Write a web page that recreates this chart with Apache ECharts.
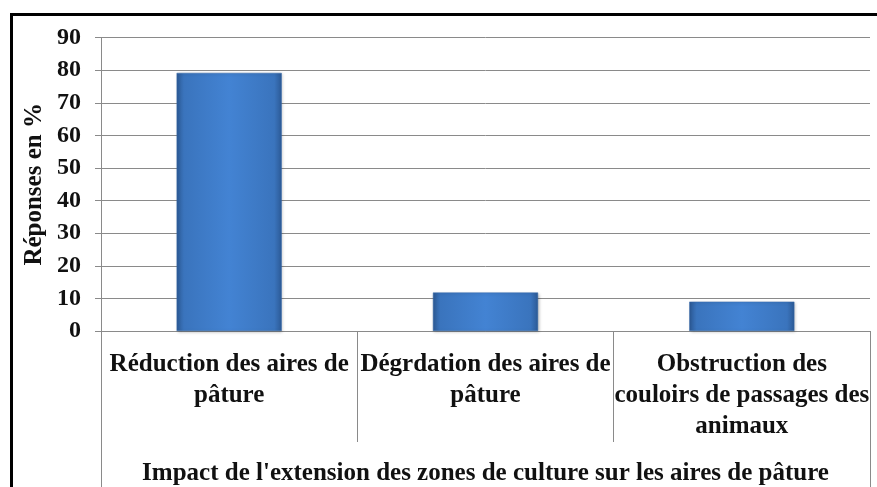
<!DOCTYPE html>
<html>
<head>
<meta charset="utf-8">
<script src="https://cdn.jsdelivr.net/npm/echarts@6/dist/echarts.min.js"></script>
<style>
  html, body { margin: 0; padding: 0; background: #ffffff; }
  #chart { width: 877px; height: 487px; }
</style>
</head>
<body>
<div id="chart"></div>
<script>
const categories = [
  "Réduction des aires de\npâture",
  "Dégrdation des aires de\npâture",
  "Obstruction des\ncouloirs de passages des\nanimaux"
];
const values = [79.2, 11.8, 9.0];
const groupLabel = ["Impact de l'extension des zones de culture sur les aires de pâture"];
const yAxisName = "Réponses en %";

const FONT = "'Liberation Serif', 'Times New Roman', serif";
const GRAY = "#8a8a8a";

const chart = echarts.init(document.getElementById('chart'), null, { renderer: 'canvas' });

const barGradient = new echarts.graphic.LinearGradient(0, 0, 1, 0, [
  { offset: 0, color: '#2c5a96' },
  { offset: 0.07, color: '#3a74bd' },
  { offset: 0.5, color: '#4383d3' },
  { offset: 0.93, color: '#3a74bd' },
  { offset: 1, color: '#2c5a96' }
]);

chart.setOption({
  backgroundColor: '#ffffff',
  animation: false,
  grid: { left: 101, right: 7, top: 37.7, bottom: 156, containLabel: false, outerBoundsMode: 'none' },
  graphic: [
    {
      type: 'rect',
      left: 9, top: 12,
      shape: { width: 900, height: 500 },
      style: { fill: 'none', stroke: '#000000', lineWidth: 3 },
      z: 100
    }
  ],
  xAxis: [
    {
      type: 'category',
      data: categories,
      position: 'bottom',
      axisLine: { show: true, lineStyle: { color: GRAY, width: 1 } },
      axisTick: { show: true, length: 111, lineStyle: { color: GRAY, width: 1 } },
      axisLabel: {
        interval: 0,
        margin: 18,
        fontFamily: FONT,
        fontWeight: 'bold',
        fontSize: 25,
        lineHeight: 31,
        color: '#111111',
        align: 'center'
      },
      splitLine: { show: false }
    },
    {
      type: 'category',
      data: groupLabel,
      position: 'bottom',
      axisLine: { show: false },
      axisTick: { show: true, length: 170, lineStyle: { color: GRAY, width: 1 } },
      axisLabel: {
        interval: 0,
        margin: 128,
        fontFamily: FONT,
        fontWeight: 'bold',
        fontSize: 25,
        lineHeight: 30,
        color: '#111111'
      },
      splitLine: { show: false }
    }
  ],
  yAxis: {
    type: 'value',
    min: 0,
    max: 90,
    interval: 10,
    name: yAxisName,
    nameLocation: 'middle',
    nameRotate: 90,
    nameGap: 54,
    nameMoveOverlap: false,
    nameTextStyle: {
      fontFamily: FONT,
      fontWeight: 'bold',
      fontSize: 25,
      color: '#111111'
    },
    axisLine: { show: true, lineStyle: { color: GRAY, width: 1 } },
    axisTick: { show: true, length: 6, lineStyle: { color: GRAY, width: 1 } },
    axisLabel: {
      margin: 20,
      fontFamily: FONT,
      fontWeight: 'bold',
      fontSize: 24,
      color: '#111111'
    },
    splitLine: { show: true, lineStyle: { color: GRAY, width: 1 } }
  },
  series: [
    {
      type: 'bar',
      data: values,
      xAxisIndex: 0,
      barWidth: '41%',
      itemStyle: {
        color: barGradient,
        borderColor: '#3569ab',
        borderWidth: 0.5,
        shadowColor: 'rgba(0,0,0,0.25)',
        shadowBlur: 3,
        shadowOffsetX: 1,
        shadowOffsetY: 1
      },
      label: { show: false }
    }
  ]
});
</script>
</body>
</html>
